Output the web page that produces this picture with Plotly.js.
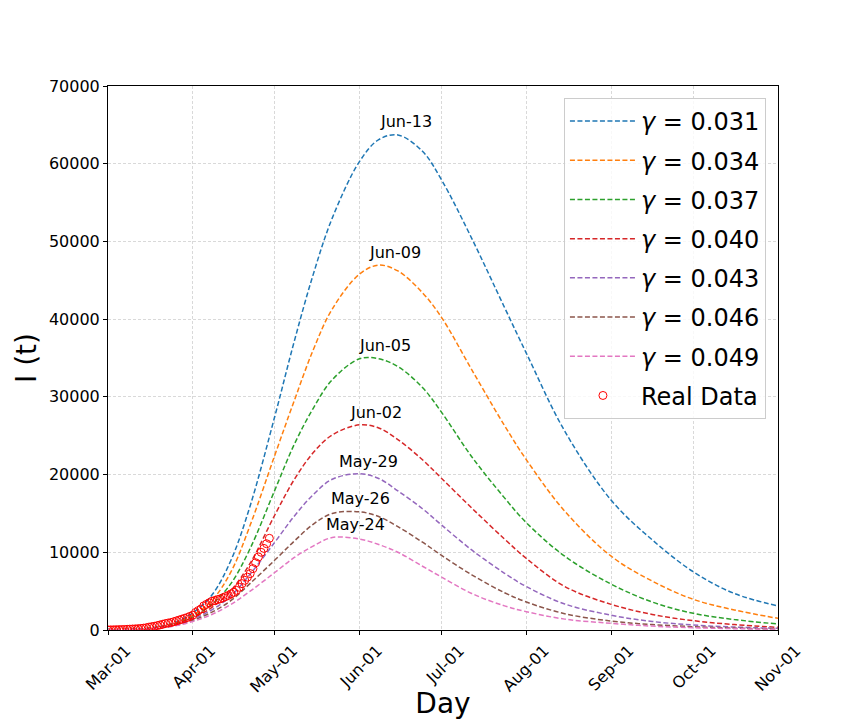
<!DOCTYPE html>
<html>
<head>
<meta charset="utf-8">
<script src="https://cdn.plot.ly/plotly-3.0.1.min.js"></script>
<style>
  body { margin: 0; background: #fff; }
  #chart { width: 864px; height: 720px; }
</style>
</head>
<body>
<div id="chart"></div>
<script>
// model curves at these dates
const modelDates = ['2020-03-01', '2020-03-15', '2020-03-25', '2020-04-01', '2020-04-08', '2020-04-15',
    '2020-04-22', '2020-05-01', '2020-05-08', '2020-05-15', '2020-05-22', '2020-06-01', '2020-06-08',
    '2020-06-15', '2020-06-24', '2020-07-01', '2020-07-12', '2020-07-24', '2020-08-01', '2020-08-15',
    '2020-09-01', '2020-09-16', '2020-10-01', '2020-10-16', '2020-11-01'];

const gammas = ['0.031', '0.034', '0.037', '0.040', '0.043', '0.046', '0.049'];

const i031 = [50, 200, 900, 2200, 4500, 9000, 16000, 27500, 37000, 45700, 53000, 60300, 63100,
    63700, 61600, 57900, 50400, 41500, 35600, 25600, 16700, 11600, 7500, 4700, 3100];
const i034 = [50, 180, 800, 1900, 3800, 7500, 13500, 22500, 29400, 36000, 41300, 45800, 46950,
    46200, 43400, 40200, 33500, 26300, 21900, 15300, 9500, 6300, 3950, 2580, 1500];
const i037 = [50, 160, 700, 1700, 3300, 6000, 10500, 18000, 23800, 28500, 32200, 34900, 34900,
    33900, 31200, 28000, 22300, 17000, 13800, 9500, 5900, 3600, 2150, 1350, 770];
const i040 = [50, 150, 650, 1550, 2900, 5100, 8600, 14800, 19300, 22800, 25100, 26400, 26000,
    24500, 21900, 19500, 15700, 11700, 9200, 5600, 3300, 2000, 1200, 700, 340];
const i043 = [40, 140, 600, 1400, 2600, 4400, 7200, 11300, 14600, 17400, 19400, 20100, 19500,
    17900, 15600, 13500, 10300, 7300, 5580, 3350, 1900, 1100, 640, 380, 210];
const i046 = [40, 130, 550, 1250, 2300, 3800, 6000, 9000, 11400, 13600, 15000, 15200, 14600,
    13300, 11300, 9600, 7100, 4800, 3600, 2100, 1150, 700, 430, 250, 130];
const i049 = [40, 120, 500, 1100, 2000, 3300, 5000, 7400, 9300, 10800, 11900, 11700, 11000,
    10000, 8200, 6800, 4700, 3100, 2360, 1400, 860, 500, 300, 170, 90];
const modelSeries = [i031, i034, i037, i040, i043, i046, i049];

const peakDates = ['2020-06-13', '2020-06-09', '2020-06-05', '2020-06-02', '2020-05-29', '2020-05-26', '2020-05-24'];
const peakValues = [63900, 47000, 35100, 26400, 20200, 15400, 12000];
const peakLabels = ['Jun-13', 'Jun-09', 'Jun-05', 'Jun-02', 'May-29', 'May-26', 'May-24'];

// real data, one value per day from Mar-01
const realStart = '2020-03-01';
const realValues = [10, 20, 30, 40, 50, 60, 70, 90, 110, 130, 150, 170, 200, 240,
    290, 370, 430, 480, 560, 650, 740, 830, 900, 960, 1060, 1170, 1280, 1390, 1500, 1610,
    1760, 1910, 2260, 2500, 2700, 3100, 3300, 3500, 3700, 3800, 3900, 4000, 4150, 4300,
    4450, 4650, 4850, 5100, 5500, 5960, 6390, 6800, 7260, 7900, 8650, 9400, 10000, 10500,
    11100, 11800];

const colors = ['#1f77b4', '#ff7f0e', '#2ca02c', '#d62728', '#9467bd', '#8c564b', '#e377c2'];

function main() {
    const realDates = [];
    const d0 = new Date(realStart + 'T00:00:00Z');
    for (let i = 0; i < realValues.length; i++) {
        const d = new Date(d0.getTime() + i * 86400000);
        realDates.push(d.toISOString().slice(0, 10));
    }

    const traces = modelSeries.map((ys, k) => ({
        x: modelDates,
        y: ys,
        type: 'scatter',
        mode: 'lines',
        name: '<i>γ</i> = ' + gammas[k],
        legendgroup: 'g' + k,
        line: { color: colors[k], width: 1.5, dash: '5px,2.5px', shape: 'spline', smoothing: 1 }
    }));

    traces.push({
        x: realDates,
        y: realValues,
        type: 'scatter',
        mode: 'markers',
        name: 'Real Data',
        legendgroup: 'real',
        marker: { symbol: 'circle-open', color: 'red', size: 8, line: { width: 1, color: 'red' } }
    });

    // peak labels: left edge a bit left of the peak, just above it
    const annotations = peakDates.map((d, k) => ({
        x: d, y: peakValues[k], text: peakLabels[k],
        showarrow: false, xanchor: 'left', yanchor: 'middle', xshift: -14, yshift: 12,
        font: { family: 'DejaVu Sans', size: 16, color: '#000' }
    }));

    const layout = {
        width: 864,
        height: 720,
        margin: { l: 108, r: 86, t: 86, b: 90 },
        paper_bgcolor: '#fff',
        plot_bgcolor: '#fff',
        font: { family: 'DejaVu Sans', size: 16, color: '#000' },
        showlegend: true,
        legend: {
            x: 0.982, y: 0.978, xanchor: 'right', yanchor: 'top',
            bgcolor: 'rgba(255,255,255,0.8)', bordercolor: '#cccccc', borderwidth: 1,
            font: { family: 'DejaVu Sans', size: 24 },
            tracegroupgap: 5, traceorder: 'grouped', itemwidth: 66
        },
        xaxis: {
            type: 'date',
            range: ['2020-03-01', '2020-11-01'],
            tickformat: '%b-%d',
            dtick: 'M1',
            tick0: '2020-03-01',
            tickangle: -45,
            ticklabelshift: 18,
            ticks: 'outside', ticklen: 4, tickcolor: '#000',
            showline: true, linecolor: '#000', linewidth: 1, mirror: true,
            showgrid: true, gridcolor: '#d9d9d9', griddash: '3px,2px', gridwidth: 0.8,
            zeroline: false,
            tickfont: { size: 16 },
            title: { text: 'Day', font: { size: 28 }, standoff: 4 }
        },
        yaxis: {
            range: [0, 70000],
            dtick: 10000,
            tickformat: 'd',
            ticks: 'outside', ticklen: 4, tickcolor: '#000',
            showline: true, linecolor: '#000', linewidth: 1, mirror: true,
            showgrid: true, gridcolor: '#d9d9d9', griddash: '3px,2px', gridwidth: 0.8,
            zeroline: false,
            tickfont: { size: 16 },
            title: { text: 'I (t)', font: { size: 28 }, standoff: 4 }
        },
        annotations: annotations
    };

    Plotly.newPlot('chart', traces, layout, { displayModeBar: false });
}
main();
</script>
</body>
</html>
